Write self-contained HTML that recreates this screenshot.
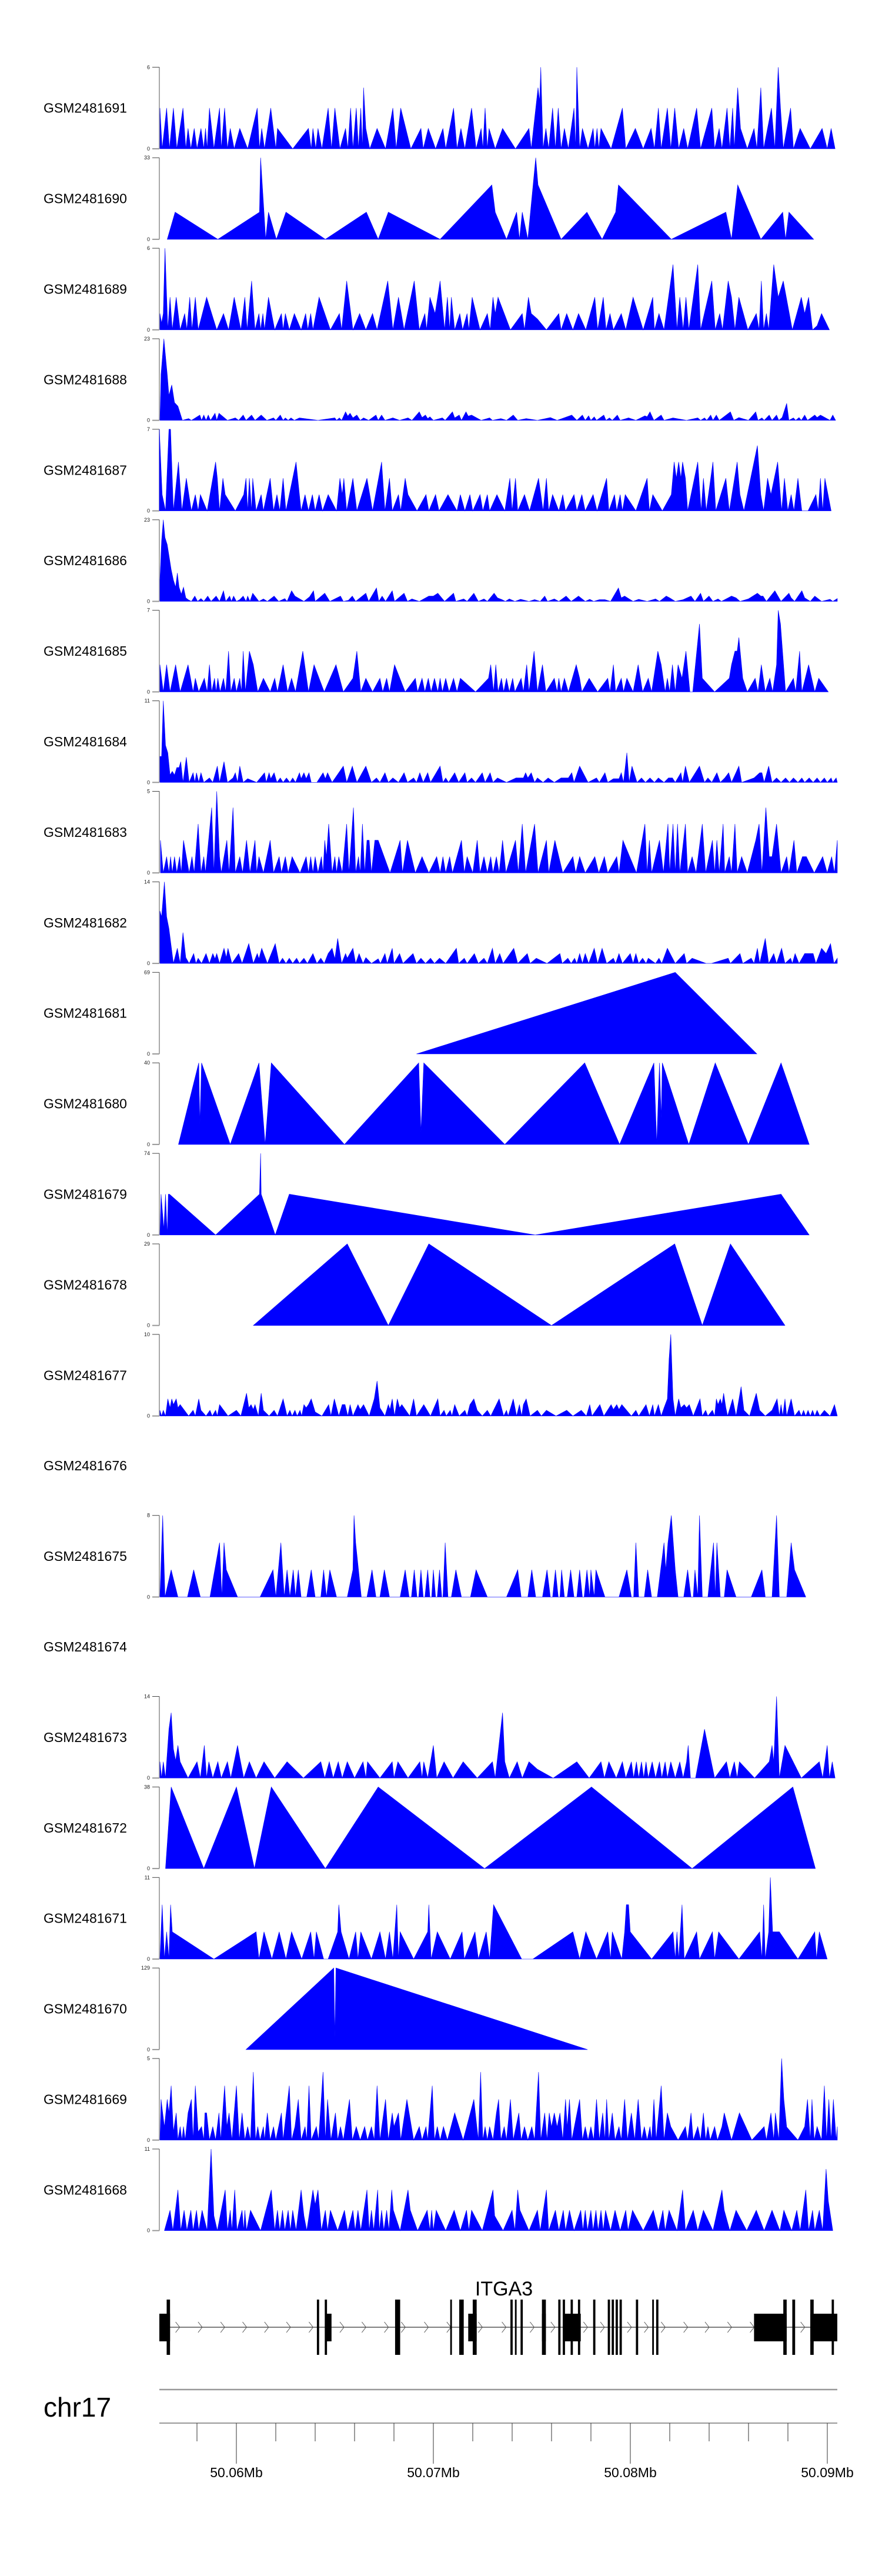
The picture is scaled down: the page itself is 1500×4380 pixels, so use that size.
<!DOCTYPE html>
<html><head><meta charset="utf-8"><title>ITGA3 coverage tracks</title>
<style>
html,body{margin:0;padding:0;background:#fff;}
svg{display:block;font-family:"Liberation Sans",sans-serif;}
</style></head>
<body>
<svg id="chart" width="1500" height="4380" viewBox="0 0 1500 4380" xmlns="http://www.w3.org/2000/svg"></svg>
<script>
// ---- data: track names, y maxima, and per-track coverage vertices [bin, value] ----
const trackNames = ["GSM2481691","GSM2481690","GSM2481689","GSM2481688","GSM2481687","GSM2481686","GSM2481685","GSM2481684","GSM2481683","GSM2481682","GSM2481681","GSM2481680","GSM2481679","GSM2481678","GSM2481677","GSM2481676","GSM2481675","GSM2481674","GSM2481673","GSM2481672","GSM2481671","GSM2481670","GSM2481669","GSM2481668"];
const trackMax = [6,33,6,23,7,23,7,11,5,14,69,40,74,29,10,null,8,null,14,38,11,129,5,11];

const t1691 = [[284,3],[288,0],[296,3],[301,0],[308,3],[314,0],[325,3],[330,0],[334,1.5],[339,0],[345,1.5],[350,0],[357,1.5],[362,0],[365,1.5],[368,0],[372,3],[380,0],[390,3],[393,0],[399,3],[404,0],[409,1.5],[416,0],[426,1.5],[440,0],[457,3],[461,0],[465,1.5],[470,0],[481,3],[490,0],[493,1.5],[520,0],[548,1.5],[553,0],[556,1.5],[561,0],[565,1.5],[572,0],[583,3],[589,0],[595,3],[604,0],[614,1.5],[618,0],[623,3],[627,0],[633,3],[637,0],[641,3],[644,0],[646,4.5],[650,1.5],[657,0],[670,1.5],[685,0],[698,3],[704,0],[712,3],[730,0],[748,1.5],[752,0],[761,1.5],[774,0],[787,1.5],[792,0],[806,3],[812,0],[819,1.5],[826,0],[838,3],[846,0],[855,1.5],[858,0],[862,3],[866,0],[869,1.5],[880,0],[893,1.5],[916,0],[940,1.5],[944,0],[956,4.5],[959,3.5],[961,6],[965,0],[970,1.5],[975,0],[982,3],[987,0],[992,3],[997,0],[1003,1.5],[1010,0],[1020,3],[1023,0],[1025,6],[1030,0],[1035,1.5],[1045,0],[1054,1.5],[1057,0],[1061,1.5],[1064,0],[1068,1.5],[1086,0],[1106,3],[1112,0],[1129,1.5],[1143,0],[1157,1.5],[1163,0],[1170,3],[1175,0],[1186,3],[1192,0],[1199,3],[1206,0],[1215,1.5],[1222,0],[1238,3],[1245,0],[1265,3],[1270,0],[1278,1.5],[1283,0],[1292,3],[1297,0],[1302,3],[1305,0],[1311,4.5],[1316,1.5],[1328,0],[1340,1.5],[1345,0],[1352,4.5],[1357,0],[1371,3],[1377,0],[1383,6],[1387,3],[1392,0],[1405,3],[1410,0],[1422,1.5],[1440,0],[1461,1.5],[1470,0],[1477,1.5],[1484,0]];
const t1690 = [[297,0],[311,11],[387,0],[461,11],[463,33],[469,11],[472,0],[477,11],[491,0],[508,11],[578,0],[651,11],[672,0],[690,11],[782,0],[874,22],[880,11],[900,0],[918,11],[923,0],[928,11],[938,0],[952,33],[956,22],[997,0],[1043,11],[1070,0],[1094,11],[1099,22],[1193,0],[1290,11],[1300,0],[1311,22],[1352,0],[1391,11],[1396,0],[1402,11],[1446,0]];
const t1689 = [[284,1.2],[287,0.5],[290,1.2],[293,6],[298,0],[302,2.4],[306,0],[313,2.4],[320,0],[328,1.2],[332,0],[337,2.4],[341,0],[347,2.4],[352,0],[367,2.4],[385,0],[397,1.2],[406,0],[416,2.4],[428,0],[435,2.4],[439,0],[447,3.6],[453,0],[460,1.2],[463,0],[467,1.2],[470,0],[477,2.4],[488,0],[500,1.2],[503,0],[507,1.2],[514,0],[523,1.2],[535,0],[543,1.2],[547,0],[552,1.2],[556,0],[567,2.4],[587,0],[603,1.2],[607,0],[616,3.6],[627,0],[639,1.2],[650,0],[662,1.2],[670,0],[689,3.6],[698,0],[708,2.4],[718,0],[736,3.6],[745,0],[755,1.2],[758,0],[764,2.4],[773,1.2],[782,3.6],[790,0],[795,2.4],[799,0],[802,2.4],[808,0],[817,1.2],[822,0],[830,1.2],[833,0],[839,2.4],[853,0],[866,1.2],[871,0],[876,2.4],[880,1.2],[885,2.4],[907,0],[928,1.2],[932,0],[939,2.4],[944,1.2],[955,0.8],[971,0],[993,1.2],[997,0],[1007,1.2],[1018,0],[1028,1.2],[1041,0],[1057,2.4],[1062,0],[1072,2.4],[1077,0],[1084,1.2],[1090,0],[1104,1.2],[1112,0],[1125,2.4],[1143,0],[1160,2.4],[1163,0],[1171,1.2],[1180,0],[1196,4.8],[1203,0],[1208,2.4],[1214,0],[1219,2.4],[1224,0],[1240,4.8],[1245,0],[1265,3.6],[1271,0],[1279,1.2],[1284,0],[1294,3.6],[1300,2.4],[1306,0],[1313,2.4],[1329,0],[1344,1.2],[1349,0],[1353,3.6],[1357,0],[1362,1.2],[1366,0],[1375,4.8],[1383,2.4],[1392,3.6],[1408,0],[1424,2.4],[1430,1.2],[1437,2.4],[1444,0],[1452,0.3],[1460,1.2],[1474,0]];
const t1688 = [[284,0],[286,13],[291,23],[297,13],[300,7],[305,10],[310,5],[316,4],[320,2],[324,0],[335,0.5],[340,0],[355,1.5],[358,0],[362,1.5],[366,0],[370,1.5],[374,0],[382,2],[385,0],[389,2],[404,0],[418,0.7],[424,0],[432,1.5],[437,0],[447,1.5],[453,0],[464,1.5],[474,0],[486,0.7],[490,0],[498,1.5],[503,0],[507,0.7],[512,0],[517,0.7],[523,0],[532,0.7],[565,0],[595,0.7],[598,0],[603,0.7],[607,0],[614,2.4],[618,1.2],[622,2],[627,0.7],[634,1.5],[640,0],[646,0.7],[655,0],[668,1.5],[672,0],[678,1.5],[684,0],[698,0.7],[710,0],[725,0.7],[732,0],[745,2.4],[750,0.8],[756,1.5],[760,0.5],[764,1],[770,0],[786,0.7],[791,0],[804,2.4],[808,0.7],[816,1.5],[820,0],[828,2.4],[832,1.2],[838,1.5],[855,0],[870,0.7],[875,0],[890,0.5],[900,0],[912,1.5],[920,0],[935,0.5],[955,0],[978,0.8],[990,0],[1016,1.5],[1025,0],[1035,1.5],[1040,0],[1046,1.3],[1050,0],[1056,1],[1060,0],[1073,1.5],[1077,0],[1083,0.7],[1088,0],[1097,1.5],[1102,0],[1117,0.7],[1130,0],[1146,1.3],[1150,1],[1155,2.4],[1162,0],[1175,1.5],[1180,0],[1196,0.7],[1220,0],[1240,0.7],[1245,0],[1252,0.7],[1256,0],[1263,1.5],[1267,0],[1273,1.5],[1278,0],[1298,2.4],[1304,0],[1313,0.8],[1330,0],[1343,2.4],[1347,0],[1354,0.7],[1358,0],[1367,1.5],[1372,0],[1380,1.5],[1384,0],[1390,0.8],[1398,4.8],[1402,0],[1410,0.7],[1414,0],[1420,0.8],[1424,0],[1430,1.5],[1435,0],[1448,1.5],[1452,0.8],[1458,1.5],[1475,0],[1480,1.5],[1485,0]];
const t1687 = [[283,7],[288,1.4],[294,0],[300,7],[303,7],[308,0],[317,4.2],[323,0],[331,2.8],[340,0],[347,1.4],[352,0],[356,1.4],[368,0],[383,4.2],[386,2.8],[390,0],[396,2.8],[400,1.4],[418,0],[433,1.4],[437,2.8],[440,0],[443,2.8],[447,0],[449,2.8],[455,0],[464,1.4],[468,0],[480,2.8],[486,0],[492,1.4],[497,0],[503,2.8],[508,0],[526,4.2],[535,0],[542,1.4],[548,0],[555,1.4],[560,0],[567,1.4],[573,0],[583,1.4],[598,0],[604,2.8],[608,1.4],[611,2.8],[616,0],[627,2.8],[634,0],[652,2.8],[662,0],[678,4.2],[684,0],[692,2.8],[697,0],[708,1.4],[712,0],[720,2.8],[725,1.4],[741,0],[757,1.4],[762,0],[774,1.4],[780,0],[796,1.4],[812,0],[818,1.4],[826,0],[835,1.4],[840,0],[853,1.4],[858,0],[866,1.4],[870,0],[883,1.4],[897,0],[906,2.8],[910,0],[916,2.8],[920,0],[932,1.4],[941,0],[957,2.8],[965,0],[971,2.8],[975,0],[982,1.4],[993,0],[1000,1.4],[1005,0],[1020,1.4],[1025,0],[1034,1.4],[1040,0],[1054,1.4],[1061,0],[1078,2.8],[1082,0],[1092,1.4],[1096,0],[1102,1.4],[1106,0],[1111,1.4],[1130,0],[1150,2.8],[1154,0],[1160,1.4],[1177,0],[1193,1.4],[1198,4.2],[1202,2.8],[1206,4.2],[1210,2.8],[1213,4.2],[1218,2.8],[1222,0],[1240,4.2],[1246,0],[1250,2.8],[1255,0],[1267,4.2],[1272,0],[1290,2.8],[1296,0],[1310,4.2],[1315,1.4],[1322,0],[1346,5.6],[1352,1.4],[1357,0],[1364,2.8],[1370,1.4],[1382,4.2],[1389,0],[1394,2.8],[1400,0],[1406,1.4],[1411,0],[1418,2.8],[1425,0],[1436,0],[1450,1.4],[1454,0],[1458,2.8],[1462,0],[1466,2.8],[1477,0]];
const t1686 = [[284,6],[287,17],[290,23],[293,18],[297,16],[300,13],[304,9],[308,6],[312,4],[315,8],[318,4],[322,2],[326,4],[330,1],[334,0.5],[340,0],[346,1.5],[351,0],[357,0.8],[362,0],[369,1.5],[375,0],[384,1.5],[390,0],[397,3],[401,0],[408,1.5],[411,0],[415,1.5],[420,0],[426,0.5],[432,1.5],[437,0],[440,1.5],[444,0],[449,2.3],[460,0],[468,0.7],[475,0],[487,1.5],[495,0],[506,0.8],[510,0],[518,3],[524,1.5],[540,0],[550,1.3],[557,3],[560,0],[577,2.3],[586,0],[605,1.5],[610,0],[619,0.3],[626,1.5],[632,0],[650,2.3],[655,0],[669,3.8],[673,0],[679,1.5],[685,0],[697,3],[701,0],[718,2.3],[724,0],[732,0.7],[745,0],[762,1.5],[770,1.5],[778,2.3],[790,0],[806,2.3],[810,0],[824,0.7],[830,0],[842,2.3],[850,0],[860,0.7],[866,0],[878,2.3],[884,1],[892,0.5],[898,0],[905,0.7],[915,0],[925,0.6],[940,0],[950,0.5],[960,0],[968,1.5],[973,0],[985,0.7],[993,0],[1006,1.5],[1015,0],[1028,1.5],[1040,0],[1048,0.6],[1055,0],[1065,0.5],[1075,0.5],[1085,0],[1099,3.8],[1104,1],[1110,1.5],[1125,0],[1135,0.6],[1150,0],[1165,0.7],[1172,0],[1184,1.5],[1190,1],[1200,0],[1214,0.5],[1228,1.5],[1235,0],[1245,2.3],[1250,0],[1260,1.5],[1267,0],[1276,0.7],[1282,0],[1300,1.5],[1308,1],[1315,0],[1330,0.7],[1346,2.3],[1352,1.5],[1356,1.5],[1362,0],[1377,3],[1388,0],[1402,2.3],[1406,1],[1412,0],[1425,3],[1430,1],[1440,0],[1448,1.5],[1460,0],[1475,0.6],[1480,0],[1488,0.8]];
const t1685 = [[284,2.33],[290,0],[296,2.33],[302,0],[312,2.33],[320,0],[334,2.33],[343,0],[347,1.17],[353,0],[363,1.17],[368,0],[372,2.33],[376,0],[381,1.17],[384,0],[387,1.17],[391,0],[397,1.17],[401,0],[406,3.5],[410,0],[416,1.17],[420,0],[426,1.17],[429,0],[432,3.5],[436,0],[443,3.5],[450,2.33],[458,0],[468,1.17],[480,0],[488,1.17],[493,0],[503,2.33],[511,0],[518,1.17],[525,0],[538,3.5],[548,0],[558,2.33],[576,0],[597,2.33],[610,0],[627,1.17],[634,3.5],[641,0],[650,1.17],[662,0],[675,1.17],[680,0],[687,1.17],[692,0],[701,2.33],[720,0],[738,1.17],[742,0],[750,1.17],[755,0],[761,1.17],[766,0],[772,1.17],[778,0],[782,1.17],[786,0],[792,1.17],[798,0],[806,1.17],[812,0],[818,1.17],[845,0],[868,1.17],[872,2.33],[877,0],[881,2.33],[885,0],[891,1.17],[895,0],[900,1.17],[905,0],[911,1.17],[915,0],[926,1.17],[930,0],[936,2.33],[940,0],[949,3.5],[955,0],[964,2.33],[970,0],[985,1.17],[990,0],[993,1.17],[997,0],[1003,1.17],[1010,0],[1024,2.33],[1030,1.17],[1034,0],[1047,1.17],[1062,0],[1080,1.17],[1084,0],[1090,2.33],[1094,0],[1104,1.17],[1108,0],[1114,1.17],[1125,0],[1134,2.33],[1142,0],[1152,1.17],[1158,0],[1169,3.5],[1175,2.33],[1182,0],[1186,1.17],[1190,0],[1195,2.33],[1200,0],[1205,2.33],[1212,1.17],[1219,3.5],[1226,0],[1231,0],[1243,5.83],[1248,1.17],[1270,0],[1296,1.17],[1300,2.33],[1306,3.5],[1310,3.5],[1313,4.67],[1320,1.17],[1328,0],[1342,1.17],[1347,0],[1353,2.33],[1360,0],[1368,1.17],[1373,0],[1380,2.33],[1383,7],[1387,5.83],[1396,0],[1410,1.17],[1414,0],[1421,3.5],[1425,0],[1437,2.33],[1448,0],[1455,1.17],[1472,0]];
const t1684 = [[284,3.5],[287,3.5],[290,11],[294,5],[298,4],[302,1],[306,1.5],[310,1],[314,2],[318,2],[321,2.8],[325,0],[331,3.4],[336,0],[343,1.3],[346,0],[349,1.3],[353,0],[357,1.3],[362,0],[372,0.6],[378,0],[386,2.2],[390,0],[398,2.8],[404,0],[414,0.6],[418,1.3],[422,0],[426,2.2],[432,0],[440,0.5],[456,0],[470,1.3],[473,0],[478,1.3],[481,0.5],[487,1.3],[492,0],[498,0.6],[503,0],[509,0.6],[515,0],[520,0.6],[525,0],[532,1.3],[535,0.5],[540,1.3],[544,0.5],[549,1.3],[553,0],[563,0],[574,1.3],[578,0.5],[582,1.3],[590,0],[610,2.2],[616,0],[626,2.2],[634,0],[650,2.2],[660,0],[669,0.6],[675,0],[684,1.3],[690,0],[698,0.6],[708,0],[718,1.3],[724,0],[735,0.6],[740,0],[746,1.3],[752,0],[760,1.3],[765,0],[782,2.2],[787,0],[792,0.6],[797,0],[808,1.3],[815,0],[826,1.3],[830,0],[838,0.6],[845,0],[857,1.3],[862,0],[871,1.3],[876,0],[884,0.6],[900,0],[917,0.6],[930,0.6],[934,1.3],[938,0.6],[944,1.3],[950,0],[955,0.6],[965,0],[974,0.6],[985,0],[997,0.6],[1010,0.6],[1016,1.3],[1020,0],[1030,2.2],[1045,0],[1060,0.6],[1065,0],[1075,1.3],[1080,0],[1090,0.5],[1100,0.5],[1104,1.3],[1108,0],[1114,4],[1118,0],[1123,2.2],[1132,0],[1140,0.6],[1147,0],[1155,0.6],[1163,0],[1170,0.6],[1180,0],[1188,0.6],[1195,0.6],[1200,0],[1210,1.3],[1213,0],[1218,2.2],[1225,0],[1243,2.2],[1252,0],[1258,0.6],[1265,0],[1274,1.3],[1280,0],[1288,0.6],[1295,1.3],[1300,0],[1313,2.2],[1318,0],[1340,0.6],[1350,1.3],[1354,1.3],[1358,0],[1366,2.2],[1372,0],[1380,0.6],[1388,0],[1396,0.6],[1403,0],[1410,0.6],[1418,0],[1425,0.6],[1430,0],[1438,0.6],[1445,0],[1452,0.6],[1458,0],[1465,0.6],[1470,0],[1477,0.6],[1480,0],[1486,0.6],[1488,0]];
const t1683 = [[285,2],[290,0],[296,1],[300,0],[303,1],[306,0],[310,1],[314,0],[319,1],[322,0],[326,2],[336,0],[341,1],[345,0],[352,3],[357,0],[362,1],[365,0],[376,4],[380,0],[385,5],[390,1],[393,0],[403,2],[407,0],[414,4],[418,0],[426,1],[431,0],[438,2],[444,0],[453,2],[456,0],[460,1],[468,0],[480,2],[486,0],[496,1],[500,0],[507,1],[512,0],[519,1],[533,0],[544,1],[548,0],[552,1],[556,0],[560,1],[565,0],[571,1],[574,0],[577,2],[580,1],[584,3],[590,0],[595,1],[598,0],[602,1],[608,0],[616,3],[620,0],[628,4],[632,0],[637,1],[640,0],[644,3],[648,0],[652,2],[656,2],[660,0],[666,2],[672,2],[693,0],[711,2],[715,0],[724,2],[738,0],[750,1],[762,0],[776,1],[782,0],[787,1],[792,0],[799,1],[804,0],[820,2],[825,0],[830,1],[840,0],[848,2],[853,0],[860,1],[866,0],[872,1],[876,0],[882,1],[887,0],[893,2],[899,0],[916,2],[921,0],[928,3],[934,0],[950,3],[956,0],[971,2],[975,0],[986,2],[1000,0],[1018,1],[1023,0],[1030,1],[1040,0],[1057,1],[1064,0],[1074,1],[1080,0],[1096,1],[1100,0],[1107,2],[1131,0],[1146,3],[1150,0],[1154,2],[1158,0],[1165,1],[1172,2],[1179,0],[1187,3],[1190,0],[1196,3],[1200,0],[1204,3],[1208,0],[1218,3],[1222,0],[1230,1],[1237,0],[1248,3],[1254,0],[1266,2],[1270,0],[1274,2],[1278,0],[1285,3],[1288,0],[1296,1],[1300,0],[1306,3],[1310,0],[1318,1],[1328,0],[1343,2],[1349,3],[1354,0],[1361,4],[1367,1],[1372,1],[1380,3],[1388,0],[1398,1],[1402,0],[1411,2],[1416,0],[1426,1],[1433,1],[1447,0],[1462,1],[1470,0],[1478,1],[1483,0],[1488,2]];
const t1682 = [[284,9],[287,8],[292,14],[296,8],[300,6],[304,3],[308,0],[315,2.6],[320,0],[325,5.3],[330,1],[336,0],[344,1.7],[348,0],[352,0.9],[358,0],[366,1.7],[372,0],[378,1.7],[382,0.8],[385,1.7],[390,0],[398,2.6],[402,1],[405,2.6],[412,0],[424,1.7],[430,0],[442,3.4],[450,0],[457,1.7],[460,0.8],[465,2.6],[475,0],[489,3.4],[496,0],[502,0.9],[508,0],[514,0.9],[520,0],[527,0.9],[532,0],[540,0.9],[546,0],[556,1.7],[563,0],[570,0.9],[576,0],[583,1.7],[590,2.6],[595,0.8],[600,4.3],[607,0],[614,1.7],[617,0.9],[627,2.6],[632,0],[638,1.7],[645,0],[650,1],[660,0],[672,0.8],[676,0],[684,1.7],[688,0],[697,2.6],[700,0],[710,1.7],[716,0],[734,1.7],[740,0],[748,0.9],[756,0],[765,0.9],[772,0],[781,0.9],[792,0],[811,2.6],[815,0],[825,0.9],[830,0],[843,1.7],[850,0],[860,0.9],[866,0],[875,2.6],[880,0],[888,1.7],[894,0],[913,2.6],[920,0],[937,1.7],[942,0],[953,0.9],[972,0],[995,1.7],[999,0],[1009,0.9],[1015,0],[1021,0.9],[1025,0],[1030,1.7],[1035,0],[1040,1.7],[1046,0],[1056,2.6],[1062,0],[1070,2.6],[1078,0],[1090,0.9],[1094,0],[1100,1.7],[1106,0],[1120,1.7],[1125,0],[1130,1.7],[1135,0],[1142,0.9],[1148,0],[1152,0.9],[1165,0],[1171,0.9],[1176,0],[1186,2.6],[1200,0],[1216,1.7],[1220,0],[1230,0.9],[1255,0],[1264,0],[1294,0.9],[1298,0],[1315,1.7],[1320,0],[1335,0.9],[1340,0],[1346,2.6],[1350,0],[1360,4.3],[1366,0],[1375,1.7],[1380,0],[1389,2.6],[1395,0],[1405,0.9],[1408,0],[1413,1.7],[1420,0],[1430,1.7],[1435,1.7],[1440,1.7],[1445,1.7],[1450,0],[1460,2.6],[1468,1.7],[1476,3.4],[1482,0],[1488,0.9]];
const t1681 = [[740,0],[1200,69],[1345,0]];
const t1680 = [[317,0],[353,40],[355,10],[358,40],[409,0],[460,40],[471,0],[482,40],[612,0],[744,40],[748,6],[753,40],[897,0],[1039,40],[1101,0],[1162,40],[1167,0],[1172,40],[1175,13],[1177,40],[1224,0],[1271,40],[1330,0],[1388,40],[1438,0]];
const t1679 = [[284,0],[286,37],[291,5],[294,37],[297,0],[299,37],[301,37],[383,0],[461,37],[463,74],[464,37],[489,0],[514,37],[951,0],[1388,37],[1438,0]];
const t1678 = [[450,0],[617,29],[690,0],[762,29],[980,0],[1199,29],[1248,0],[1298,29],[1395,0]];
const t1677 = [[284,0.7],[287,0],[290,0.7],[294,0],[298,2.1],[302,1],[305,2.1],[308,1.4],[313,2.1],[316,1],[320,1.4],[335,0],[343,0.7],[347,0],[353,2.1],[357,0.7],[366,0],[373,0.7],[377,0],[383,0.7],[386,0],[390,1.4],[405,0],[420,0.7],[428,0],[433,1.4],[438,2.8],[442,1],[446,1.4],[450,0.8],[453,1.4],[459,0],[464,2.8],[468,0.7],[478,0],[487,0.7],[493,0],[503,2.1],[510,0],[515,0.7],[519,0],[524,0.7],[528,0],[533,0.7],[536,0],[540,1.4],[544,1],[548,1.4],[553,2.1],[560,0.5],[572,0],[584,1.4],[588,0],[594,2.1],[602,0],[608,1.4],[613,1.4],[618,0],[622,1.4],[627,0],[636,1.4],[640,0.8],[646,1.4],[656,0],[665,2.1],[670,4.3],[675,1],[684,0],[690,1.4],[693,0.8],[697,2.1],[701,0],[706,2.1],[710,1],[714,1.4],[728,0],[735,2.1],[740,0],[753,1.4],[765,0],[778,2.1],[782,0],[789,0.7],[793,0],[800,0.7],[803,0],[808,1.4],[816,0],[826,0.7],[830,0],[835,1.4],[842,2.1],[848,0.7],[857,0],[866,0.7],[872,0],[887,2.1],[895,0],[900,0.7],[903,0],[912,2.1],[918,0],[923,1.4],[927,0],[930,1.4],[935,2.1],[942,0],[955,0.7],[962,0],[971,0.7],[988,0],[1007,0.7],[1018,0],[1033,0.7],[1042,0],[1048,1.4],[1052,0],[1059,0.7],[1066,1.4],[1073,0],[1086,1.4],[1090,0.8],[1096,1.4],[1100,0.8],[1105,1.4],[1122,0],[1130,0.7],[1135,0],[1148,1.4],[1154,0],[1160,1.4],[1163,0],[1170,1.4],[1175,0],[1180,1],[1186,2.1],[1189,7],[1192,10],[1196,2.1],[1200,0],[1206,2.1],[1210,1],[1216,1.4],[1220,1],[1225,1.4],[1232,0],[1244,2.1],[1248,0],[1254,0.7],[1258,0],[1266,0.7],[1270,0],[1273,2.1],[1276,1.4],[1280,2.1],[1283,1.4],[1286,2.8],[1290,1],[1293,0],[1302,2.1],[1308,0],[1317,3.6],[1322,0.7],[1332,0],[1344,2.8],[1350,0.7],[1360,0],[1372,0.7],[1381,2.1],[1385,0],[1388,1.4],[1391,0],[1395,2.1],[1398,0],[1406,2.1],[1412,0],[1420,0.7],[1424,0],[1428,0.7],[1432,0],[1436,0.7],[1440,0],[1444,0.7],[1448,0],[1452,0.7],[1457,0],[1465,0.7],[1475,0],[1483,1.4],[1488,0]];
const t1676 = [];
const t1675 = [[284,0],[289,8],[293,0],[304,2.67],[316,0],[333,0],[344,2.67],[356,0],[373,0],[390,5.33],[394,0],[398,5.33],[402,2.67],[422,0],[462,0],[485,2.67],[490,0],[499,5.33],[505,0],[510,2.67],[515,0],[521,2.67],[525,0],[530,2.67],[535,0],[545,0],[553,2.67],[560,0],[570,0],[575,2.67],[580,0],[586,2.67],[598,0],[617,0],[627,2.67],[629,8],[632,5.33],[642,0],[652,0],[661,2.67],[668,0],[675,0],[683,2.67],[692,0],[711,0],[720,2.67],[727,0],[731,0],[736,2.67],[741,0],[744,0],[748,2.67],[752,0],[755,0],[760,2.67],[764,0],[767,0],[770,2.67],[774,0],[777,0],[781,2.67],[785,0],[787,0],[791,5.33],[796,0],[802,0],[810,2.67],[820,0],[836,0],[846,2.67],[866,0],[900,0],[920,2.67],[926,0],[938,0],[945,2.67],[952,0],[964,0],[972,2.67],[978,0],[982,0],[987,2.67],[992,0],[995,0],[998,2.67],[1003,0],[1008,0],[1014,2.67],[1020,0],[1025,0],[1030,2.67],[1035,0],[1038,0],[1043,2.67],[1048,0],[1050,2.67],[1056,0],[1059,2.67],[1075,0],[1100,0],[1114,2.67],[1122,0],[1126,0],[1130,5.33],[1135,0],[1145,0],[1151,2.67],[1158,0],[1168,0],[1180,5.33],[1183,2.67],[1187,5.33],[1193,8],[1200,2.67],[1205,0],[1215,0],[1222,2.67],[1228,0],[1232,0],[1235,2.67],[1240,0],[1243,8],[1248,0],[1258,0],[1268,5.33],[1271,0],[1274,5.33],[1280,0],[1287,0],[1292,2.67],[1308,0],[1335,0],[1354,2.67],[1360,0],[1372,0],[1380,8],[1385,0],[1398,0],[1406,5.33],[1412,2.67],[1432,0]];
const t1674 = [];
const t1673 = [[284,2.8],[287,0],[290,2.8],[294,0],[300,8.4],[304,11.2],[308,5],[312,3],[316,5.6],[320,2.8],[334,0],[350,2.8],[356,0],[363,5.6],[367,0],[371,2.8],[378,0],[387,2.8],[393,0],[404,2.8],[410,0],[422,5.6],[426,3.5],[433,0],[443,2.8],[455,0],[469,2.8],[488,0],[510,2.8],[539,0],[570,2.8],[577,0],[585,2.8],[592,0],[601,2.8],[608,0],[617,2.8],[630,0],[645,2.8],[650,0],[653,2.8],[675,0],[697,2.8],[700,0],[707,2.8],[725,0],[746,2.8],[750,0],[753,2.8],[760,0],[770,5.6],[776,0],[789,2.8],[805,0],[823,2.8],[848,0],[875,2.8],[880,0],[893,11.2],[897,2.8],[905,0],[919,2.8],[928,0],[940,2.8],[955,1.5],[983,0],[1025,2.8],[1047,0],[1068,2.8],[1074,0],[1082,2.8],[1095,0],[1106,2.8],[1112,0],[1122,2.8],[1126,0],[1131,2.8],[1135,0],[1140,2.8],[1144,0],[1148,2.8],[1152,0],[1159,2.8],[1165,0],[1172,2.8],[1176,0],[1182,2.8],[1186,0],[1192,2.8],[1200,0],[1208,2.8],[1214,0],[1220,2.8],[1223,5.6],[1227,0],[1236,0],[1252,8.4],[1257,6],[1270,0],[1291,2.8],[1297,0],[1305,2.8],[1310,0],[1314,2.8],[1341,0],[1367,2.8],[1372,5.6],[1375,2.8],[1380,14],[1385,0],[1395,5.6],[1424,0],[1456,2.8],[1462,0],[1470,5.6],[1474,0],[1479,2.8],[1484,0]];
const t1672 = [[294,0],[304,38],[362,0],[420,38],[452,0],[482,38],[578,0],[672,38],[861,0],[1051,38],[1230,0],[1409,38],[1449,0]];
const t1671 = [[284,0],[288,7.33],[292,0],[296,3.67],[300,0],[303,7.33],[306,3.67],[380,0],[455,3.67],[460,0],[469,3.67],[483,0],[496,3.67],[508,0],[518,3.67],[536,0],[552,3.67],[558,0],[562,3.67],[575,0],[583,0],[600,3.67],[602,7.33],[606,3.67],[620,0],[632,3.67],[636,0],[641,3.67],[660,0],[675,3.67],[685,0],[692,3.67],[698,0],[705,7.33],[708,0],[711,3.67],[735,0],[760,3.67],[762,7.33],[766,0],[777,3.67],[800,0],[821,3.67],[825,0],[844,3.67],[850,0],[864,3.67],[870,0],[877,7.33],[927,0],[947,0],[1018,3.67],[1030,0],[1041,3.67],[1060,0],[1080,3.67],[1085,0],[1088,3.67],[1105,0],[1110,3.67],[1113,7.33],[1117,7.33],[1120,3.67],[1158,0],[1196,3.67],[1200,0],[1203,3.67],[1206,0],[1212,7.33],[1216,0],[1238,3.67],[1243,0],[1266,3.67],[1270,0],[1277,3.67],[1313,0],[1350,3.67],[1354,0],[1357,7.33],[1360,0],[1366,3.67],[1369,11],[1373,3.67],[1385,3.67],[1418,0],[1448,3.67],[1451,0],[1456,3.67],[1470,0]];
const t1670 = [[437,0],[593,129],[595,20],[597,129],[1044,0]];
const t1669 = [[284,0],[286,2.5],[289,1.67],[292,0.8],[297,2.5],[300,1.67],[304,3.33],[308,0.5],[313,1.67],[316,0],[320,0.83],[323,0],[326,0.83],[329,0],[334,1.67],[340,2.5],[343,0],[347,3.33],[352,0.5],[358,0.83],[362,0],[364,1.67],[367,1.67],[372,0],[378,0.83],[383,0],[389,1.67],[392,0],[399,3.33],[403,0.83],[407,1.67],[412,0],[420,3.33],[425,0],[430,1.67],[435,0],[440,0.83],[445,0],[450,4.17],[454,0],[458,0.83],[462,0],[468,0.83],[470,0],[475,1.67],[480,0],[486,0.83],[490,0],[500,1.67],[503,0],[514,3.33],[518,0],[524,0.83],[530,2.5],[535,0],[542,0.83],[545,0],[549,3.33],[553,0],[562,0.83],[566,0],[574,4.17],[578,0],[582,2.5],[588,0],[596,1.67],[600,0],[605,0.83],[610,0],[621,2.5],[626,0],[633,0.83],[640,0],[648,0.83],[653,0],[660,0.83],[665,0],[670,3.33],[675,0],[685,2.5],[690,0],[697,1.67],[700,0.83],[708,1.67],[712,0],[723,2.5],[735,0],[745,0.83],[750,0],[757,0.83],[760,0],[768,3.33],[772,0],[777,0.83],[782,0],[788,0.83],[795,0],[808,1.67],[823,0],[842,2.5],[850,0],[854,4.17],[858,0],[862,0.83],[866,0],[870,0.83],[876,0],[882,1.67],[886,2.5],[890,0],[896,0.83],[900,0],[907,2.5],[912,0],[922,1.67],[926,0],[932,0.83],[938,0],[945,0.83],[950,0],[957,4.17],[961,0],[968,1.67],[972,0],[976,1.67],[980,0.8],[985,1.67],[990,0.8],[995,1.67],[1000,0],[1005,2.5],[1008,0.8],[1012,2.5],[1016,0],[1030,2.5],[1035,0],[1040,0.83],[1045,0],[1050,0.83],[1055,0],[1060,2.5],[1065,0],[1071,1.67],[1075,0],[1078,2.5],[1082,0],[1088,1.67],[1093,0],[1100,0.83],[1104,0],[1110,2.5],[1115,0],[1122,1.67],[1128,0],[1134,2.5],[1140,0],[1145,0.83],[1150,0],[1155,0.83],[1158,0],[1162,2.5],[1166,0],[1175,3.33],[1180,0],[1186,1.67],[1192,0.83],[1205,0],[1218,0.83],[1222,0],[1228,1.67],[1232,0],[1240,0.83],[1245,0],[1250,1.67],[1254,0],[1258,0.83],[1262,0],[1270,0.83],[1275,0],[1283,0.83],[1287,1.67],[1300,0],[1314,1.67],[1336,0],[1358,0.83],[1362,0],[1370,1.67],[1375,0],[1378,1.67],[1384,0],[1389,5],[1393,2.5],[1398,0.8],[1418,0],[1430,0.83],[1435,2.5],[1440,0],[1443,2.5],[1447,0],[1452,0.83],[1460,0],[1465,3.33],[1469,0],[1473,2.5],[1477,0],[1481,2.5],[1486,0],[1488,0.83]];
const t1668 = [[292,0],[302,2.75],[307,0],[316,5.5],[321,0],[327,2.75],[332,0],[339,2.75],[343,0],[349,2.75],[353,0],[359,2.75],[368,0],[375,11],[380,2],[386,0],[400,5.5],[404,0],[409,2.75],[412,0],[417,5.5],[421,0],[430,2.75],[433,0],[435,2.75],[438,0],[445,2.75],[463,0],[482,5.5],[488,0],[493,2.75],[497,0],[502,2.75],[506,0],[512,2.75],[516,0],[520,2.75],[526,0],[535,5.5],[540,2],[545,0],[556,5.5],[560,3.5],[565,5.5],[571,0],[578,2.75],[582,0],[587,2.75],[600,0],[612,2.75],[618,0],[627,2.75],[631,0],[636,2.75],[641,0],[652,5.5],[656,0],[660,2.75],[664,0],[671,5.5],[674,0],[678,2.75],[682,0],[687,2.75],[691,0],[696,5.5],[699,2.75],[711,0],[725,5.5],[729,2.75],[742,0],[759,2.75],[764,0],[767,2.75],[770,0],[775,2.75],[792,0],[807,2.75],[818,0],[829,2.75],[833,0],[838,2.75],[857,0],[876,5.5],[879,2],[894,0],[910,2.75],[915,0],[920,5.5],[924,2.75],[940,0],[955,2.75],[960,0],[971,5.5],[975,0],[987,2.75],[993,0],[1001,2.75],[1005,0],[1012,2.75],[1020,0],[1032,2.75],[1036,0],[1040,2.75],[1044,0],[1050,2.75],[1054,0],[1059,2.75],[1063,0],[1068,2.75],[1072,0],[1076,2.75],[1085,0],[1093,2.75],[1102,0],[1112,2.75],[1116,0],[1124,2.75],[1143,0],[1161,2.75],[1170,0],[1178,2.75],[1182,0],[1189,2.75],[1203,0],[1213,5.5],[1218,0],[1232,2.75],[1240,0],[1250,2.75],[1267,0],[1283,5.5],[1287,2.75],[1297,0],[1308,2.75],[1327,0],[1344,2.75],[1358,0],[1372,2.75],[1386,0],[1393,2.75],[1407,0],[1416,2.75],[1422,0],[1427,2.75],[1432,5.5],[1437,0],[1444,2.75],[1448,0],[1456,2.75],[1462,0],[1468,8.3],[1472,4],[1480,0]];

const trackSeries = [t1691,t1690,t1689,t1688,t1687,t1686,t1685,t1684,t1683,t1682,t1681,t1680,t1679,t1678,t1677,t1676,t1675,t1674,t1673,t1672,t1671,t1670,t1669,t1668];

// gene model (bins): tall exon bars and thick boxes, direction arrows
const exonTall = [[296,302],[563,567],[577,581],[702,711],[800,803],[816,824],[840,847],[907,911],[915,918],[925,929],[963,970],[992,996],[1000,1004],[1014,1018],[1027,1031],[1054,1058],[1080,1084],[1087,1091],[1094,1098],[1101,1105],[1130,1134],[1159,1162],[1166,1170],[1392,1398],[1408,1413],[1440,1446],[1478,1482]];
const exonBox = [[283,302],[580,589],[832,847],[963,970],[1000,1032],[1340,1398],[1440,1488]];
const arrowBins = [315,355,395,434,473,512,552,607,646,686,716,757,797,853,895,945,982,1040,1070,1118,1148,1178,1218,1256,1296,1336,1426];
const geneName = "ITGA3";
const chromName = "chr17";
// axis ticks in Mb
const majorTicks = [50.06,50.07,50.08,50.09];
const majorLabels = ["50.06Mb","50.07Mb","50.08Mb","50.09Mb"];
const minorTicks = [50.058,50.062,50.064,50.066,50.068,50.072,50.074,50.076,50.078,50.082,50.084,50.086,50.088];

// ---- scales ----
const BIN0 = 283, BIN1 = 1488, PX0 = 271, PX1 = 1424;
function xS(b){ return PX0 + (b - BIN0) * (PX1 - PX0) / (BIN1 - BIN0); }
function mbS(mb){ return 402 + (mb - 50.06) * 33500; }
const BASE0 = 253, STEP = 153.9, TH = 138.7;
function baseY(i){ return BASE0 + STEP * i; }
function yS(i, v){ return baseY(i) - (v / trackMax[i]) * TH; }

const NS = "http://www.w3.org/2000/svg";
const svg = document.getElementById('chart');
function mk(tag, attrs, parent){
  const e = document.createElementNS(NS, tag);
  for (const k in attrs) e.setAttribute(k, attrs[k]);
  (parent || svg).appendChild(e);
  return e;
}

trackNames.forEach((name, i) => {
  const g = mk('g', {});
  
  
  const by = baseY(i);
  const lab = mk('text', {x: 74, y: by - TH/2 + 8, 'font-size': 23, fill: '#000'}, g);
  lab.textContent = name;
  
  
  const data = trackSeries[i];
  if (!trackMax[i] || data.length === 0) return;
  // y axis
  const ax = mk('line', {x1: PX0, x2: PX0, y1: by - TH, y2: by, stroke: '#8c8c8c', 'stroke-width': 1.5}, g);
  
  
  mk('line', {x1: 259, x2: PX0, y1: by - TH, y2: by - TH, stroke: '#444', 'stroke-width': 1}, g);
  mk('line', {x1: 259, x2: PX0, y1: by, y2: by, stroke: '#999', 'stroke-width': 2}, g);
  const tmax = mk('text', {x: 255, y: by - TH + 3, 'font-size': 9, 'text-anchor': 'end', fill: '#222'}, g);
  tmax.textContent = String(trackMax[i]);
  
  
  const tz = mk('text', {x: 255, y: by + 3, 'font-size': 9, 'text-anchor': 'end', fill: '#222'}, g);
  tz.textContent = "0";
  
  
  // area
  let d = 'M' + xS(data[0][0]).toFixed(1) + ',' + by;
  data.forEach(p => { d += 'L' + xS(p[0]).toFixed(1) + ',' + yS(i, p[1]).toFixed(1); });
  d += 'L' + xS(data[data.length-1][0]).toFixed(1) + ',' + by + 'Z';
  const area = mk('path', {d: d, fill: '#0000ff', stroke: '#0000ff', 'stroke-width': 0.6, 'stroke-linejoin': 'miter'}, g);
  
  
});

// ---- gene track ----
const gg = mk('g', {});


const gl = mk('text', {x: 857, y: 3903, 'font-size': 34, 'text-anchor': 'middle', fill: '#000'}, gg);
gl.textContent = geneName;


mk('line', {x1: xS(283), x2: xS(1488), y1: 3957, y2: 3957, stroke: '#333', 'stroke-width': 1.2}, gg);
arrowBins.forEach(b => {
  const x = xS(b);
  const a = mk('polyline', {points: (x-3)+','+(3948)+' '+(x+4)+','+3957+' '+(x-3)+','+3966, fill: 'none', stroke: '#555', 'stroke-width': 1}, gg);
  
  
});
exonBox.forEach(e => {
  const r = mk('rect', {x: xS(e[0]), y: 3934, width: Math.max(1, xS(e[1]) - xS(e[0])), height: 47, fill: '#000'}, gg);
  
  
});
exonTall.forEach(e => {
  const r = mk('rect', {x: xS(e[0]), y: 3910, width: Math.max(1.5, xS(e[1]) - xS(e[0])), height: 94, fill: '#000'}, gg);
  
  
});

// ---- genome axis ----
const ga = mk('g', {});


const ch = mk('text', {x: 74, y: 4109, 'font-size': 46, fill: '#000'}, ga);
ch.textContent = chromName;


mk('line', {x1: PX0, x2: PX1, y1: 4063, y2: 4063, stroke: '#999', 'stroke-width': 2.5}, ga);
mk('line', {x1: PX0, x2: PX1, y1: 4120, y2: 4120, stroke: '#999', 'stroke-width': 2}, ga);
minorTicks.forEach(m => {
  const t = mk('line', {x1: mbS(m), x2: mbS(m), y1: 4120, y2: 4151, stroke: '#333', 'stroke-width': 1}, ga);
  
  
});
majorTicks.forEach((m, k) => {
  const t = mk('line', {x1: mbS(m), x2: mbS(m), y1: 4120, y2: 4189, stroke: '#333', 'stroke-width': 1}, ga);
  
  
  const l = mk('text', {x: mbS(m), y: 4212, 'font-size': 23, 'text-anchor': 'middle', fill: '#000'}, ga);
  l.textContent = majorLabels[k];
  
  
});
</script>
</body></html>
